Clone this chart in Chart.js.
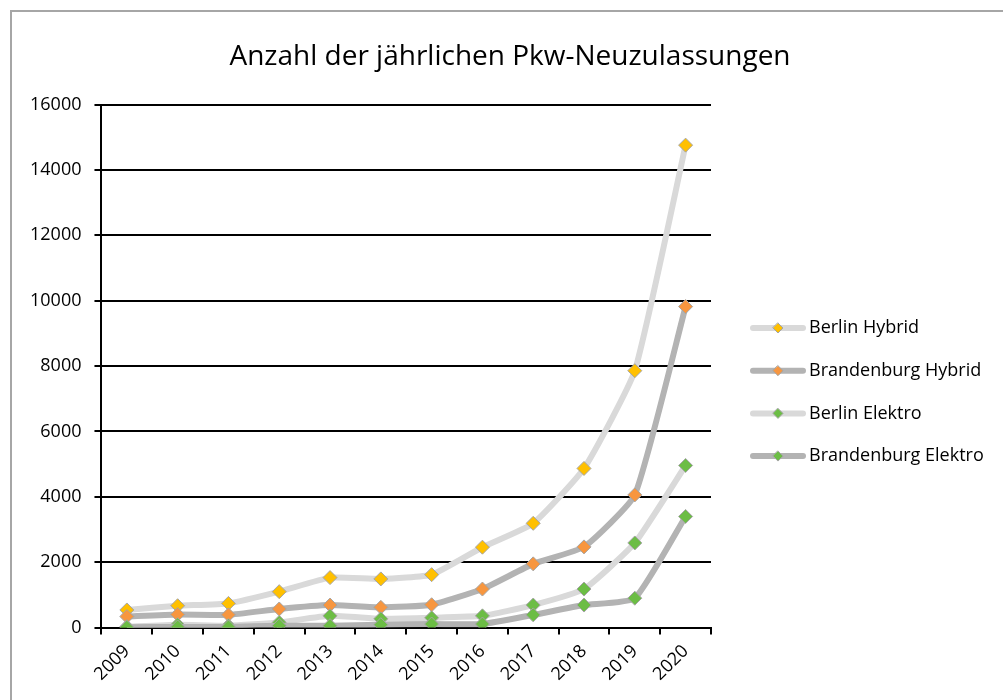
<!DOCTYPE html>
<html>
<head>
<meta charset="utf-8">
<script src="https://cdn.jsdelivr.net/npm/chart.js@4"></script>
<style>
  body { margin: 0; background: #fff; }
  .frame { position: absolute; left: 10px; top: 10px; width: 1100px; height: 800px; border: 2px solid #a6a6a6; }
  .wrap { position: absolute; left: 0; top: 0; width: 1003px; height: 700px; }
</style>
</head>
<body>
<div class="frame"></div>
<div class="wrap"><canvas id="chart" width="1003" height="700"></canvas></div>
<script>
var years = ["2009", "2010", "2011", "2012", "2013", "2014", "2015", "2016", "2017", "2018", "2019", "2020"];
var berlinHybrid = [540, 670, 740, 1100, 1530, 1490, 1620, 2460, 3190, 4870, 7860, 14760];
var brandenburgHybrid = [340, 400, 390, 570, 690, 620, 700, 1180, 1950, 2470, 4060, 9820];
var berlinElektro = [30, 90, 60, 160, 360, 270, 300, 360, 690, 1180, 2590, 4960];
var brandenburgElektro = [10, 20, 20, 60, 60, 90, 110, 110, 390, 690, 900, 3400];
var seriesNames = ["Berlin Hybrid", "Brandenburg Hybrid", "Berlin Elektro", "Brandenburg Elektro"];
var yTicks = [0, 2000, 4000, 6000, 8000, 10000, 12000, 14000, 16000];

var FONT = "'Open Sans', sans-serif";
var LIGHT = "#d9d9d9";
var DARK = "#b3b3b3";
var YELLOW = "#ffc000";
var ORANGE = "#f7963f";
var GREEN = "#6cbd45";

function series(i, values, lineColor, markColor, order) {
    return {
        label: seriesNames[i],
        data: values,
        borderColor: lineColor,
        backgroundColor: markColor,
        borderWidth: 6,
        tension: 0.15,
        pointStyle: "rectRot",
        pointRadius: 7,
        pointHoverRadius: 7,
        pointBackgroundColor: markColor,
        pointBorderColor: "#a5a5a5",
        pointBorderWidth: 1,
        order: order
    };
}

var datasets = [
    series(0, berlinHybrid, LIGHT, YELLOW, 4),
    series(1, brandenburgHybrid, DARK, ORANGE, 3),
    series(2, berlinElektro, LIGHT, GREEN, 2),
    series(3, brandenburgElektro, DARK, GREEN, 1)
];

// Legend on the right, Excel style: line sample with a diamond, then the name
var sideLegend = {
    id: "sideLegend",
    afterDraw: function(chart) {
        var ctx = chart.ctx;
        var x0 = chart.chartArea.right + 39;
        var top = 328;
        var step = 42.7;
        ctx.save();
        chart.data.datasets.forEach(function(ds, i) {
            var y = top + i * step;
            ctx.strokeStyle = ds.borderColor;
            ctx.lineWidth = 6;
            ctx.lineCap = "round";
            ctx.beginPath();
            ctx.moveTo(x0 + 3, y);
            ctx.lineTo(x0 + 53, y);
            ctx.stroke();
            ctx.fillStyle = ds.pointBackgroundColor;
            ctx.strokeStyle = ds.pointBorderColor;
            ctx.lineWidth = 1;
            ctx.beginPath();
            ctx.moveTo(x0 + 28, y - 5);
            ctx.lineTo(x0 + 33, y);
            ctx.lineTo(x0 + 28, y + 5);
            ctx.lineTo(x0 + 23, y);
            ctx.closePath();
            ctx.fill();
            ctx.stroke();
            ctx.fillStyle = "#000";
            ctx.font = "18px " + FONT;
            ctx.textBaseline = "middle";
            ctx.fillText(ds.label, x0 + 59, y);
        });
        ctx.restore();
    }
};

new Chart(document.getElementById("chart"), {
    type: "line",
    data: { labels: years, datasets: datasets },
    plugins: [sideLegend],
    options: {
        responsive: false,
        animation: false,
        layout: { padding: { top: 0, right: 0, bottom: 9, left: 17 } },
        plugins: {
            title: {
                display: true,
                text: "Anzahl der jährlichen Pkw-Neuzulassungen",
                color: "#000",
                font: { family: FONT, size: 28, weight: "normal" },
                padding: { top: 40, bottom: 31 }
            },
            legend: { display: false },
            tooltip: { enabled: false }
        },
        scales: {
            x: {
                offset: true,
                grid: { offset: true, drawOnChartArea: false, drawTicks: true, tickLength: 7, color: "#000", lineWidth: 2 },
                border: { color: "#000", width: 2 },
                ticks: { color: "#000", font: { family: FONT, size: 18 }, minRotation: 45, maxRotation: 45, padding: 6 }
            },
            y: {
                min: 0,
                max: 16000,
                afterBuildTicks: function(scale) {
                    scale.ticks = yTicks.map(function(v) { return { value: v }; });
                },
                grid: { color: "#000", lineWidth: 2, tickLength: 7, drawTicks: true },
                border: { color: "#000", width: 2 },
                ticks: {
                    color: "#000",
                    font: { family: FONT, size: 18 },
                    padding: 13,
                    callback: function(v) { return String(v); }
                }
            },
            // empty axis on the right that reserves room for the legend
            legendSpace: {
                position: "right",
                min: 0,
                max: 16000,
                grid: { drawOnChartArea: false, drawTicks: false },
                border: { display: false },
                ticks: { display: false },
                afterFit: function(scale) { scale.width = 292; }
            }
        }
    }
});
</script>
</body>
</html>
